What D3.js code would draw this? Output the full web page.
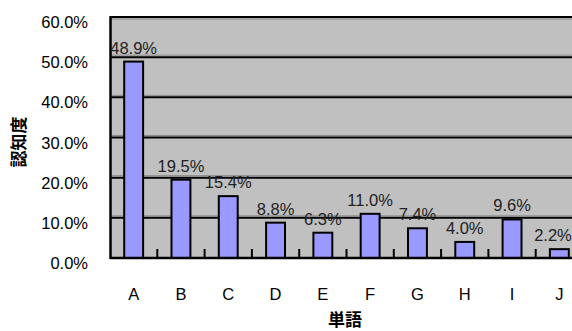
<!DOCTYPE html>
<html><head><meta charset="utf-8">
<script src="https://cdn.jsdelivr.net/npm/d3@7"></script>
<style>body{margin:0;background:#fff}svg{display:block}</style>
</head><body>
<svg id="c" width="572" height="331"></svg>
<script>
const categories = ["A","B","C","D","E","F","G","H","I","J"];
const values = [48.9, 19.5, 15.4, 8.8, 6.3, 11.0, 7.4, 4.0, 9.6, 2.2];
const yTicks = [0, 10, 20, 30, 40, 50, 60];
const xTitle = "単語";
const yTitle = "認知度";

const svg = d3.select("#c");
const font = "'Liberation Sans', Arial, sans-serif";
const x = d3.scaleBand().domain(categories).range([110, 583]).paddingInner(0.6).paddingOuter(0.3);
const xc = d3.scaleBand().domain(categories).range([110, 583]);
const y = d3.scaleLinear().domain([0, 60]).range([258, 17]);

svg.append("rect").attr("x", 110).attr("y", y(60)).attr("width", 473).attr("height", y(0) - y(60)).attr("fill", "#c0c0c0");

// gridlines
svg.append("g").selectAll("line").data(yTicks.filter(d => d > 0)).join("line")
  .attr("x1", 110).attr("x2", 583).attr("y1", d => y(d)).attr("y2", d => y(d))
  .attr("stroke", "#000").attr("stroke-width", 2);
svg.append("g").selectAll("line").data(yTicks.filter(d => d > 0)).join("line")
  .attr("x1", 110).attr("x2", 583).attr("y1", d => y(d) + (d === 60 ? 2 : -2)).attr("y2", d => y(d) + (d === 60 ? 2 : -2))
  .attr("stroke", "#8a8a8a").attr("stroke-width", 1);

// bars
svg.append("g").selectAll("rect").data(values).join("rect")
  .attr("x", (d, i) => x(categories[i])).attr("width", x.bandwidth())
  .attr("y", d => y(d)).attr("height", d => y(0) - y(d))
  .attr("fill", "#9999ff").attr("stroke", "#000").attr("stroke-width", 2);

// x ticks (upward at category boundaries)
svg.append("g").selectAll("line").data(categories.slice(1)).join("line")
  .attr("x1", d => xc(d)).attr("x2", d => xc(d)).attr("y1", y(0)).attr("y2", y(0) - 9)
  .attr("stroke", "#000").attr("stroke-width", 2);

// axes
svg.append("line").attr("x1", 110).attr("x2", 583).attr("y1", y(0)).attr("y2", y(0)).attr("stroke", "#000").attr("stroke-width", 2.5);
svg.append("line").attr("x1", 110.5).attr("x2", 110.5).attr("y1", y(60) - 1).attr("y2", y(0) + 1).attr("stroke", "#000").attr("stroke-width", 2.5);

// y labels
svg.append("g").selectAll("text").data(yTicks).join("text")
  .attr("x", 88).attr("y", d => y(d) + 11).attr("text-anchor", "end")
  .attr("font-family", font).attr("font-size", 16.5).attr("fill", "#000")
  .text(d => d.toFixed(1) + "%");

// x labels
svg.append("g").selectAll("text").data(categories).join("text")
  .attr("x", d => xc(d) + xc.bandwidth() / 2).attr("y", 300).attr("text-anchor", "middle")
  .attr("font-family", font).attr("font-size", 16.5).attr("fill", "#000")
  .text(d => d);

// value labels
svg.append("g").selectAll("text").data(values).join("text")
  .attr("x", (d, i) => Math.min(xc(categories[i]) + xc.bandwidth() / 2, 553)).attr("y", d => y(d) - 8)
  .attr("text-anchor", "middle")
  .attr("font-family", font).attr("font-size", 16.5).attr("fill", "#222")
  .text(d => d.toFixed(1) + "%");

// titles
svg.append("text").attr("x", 345).attr("y", 326).attr("text-anchor", "middle")
  .attr("font-family", "'Noto Sans CJK JP', sans-serif").attr("font-weight", "bold").attr("font-size", 17)
  .text(xTitle);
svg.append("text").attr("transform", "translate(25,142) rotate(-90)").attr("text-anchor", "middle")
  .attr("font-family", "'Noto Sans CJK JP', sans-serif").attr("font-weight", "bold").attr("font-size", 17)
  .text(yTitle);
</script>
</body></html>
